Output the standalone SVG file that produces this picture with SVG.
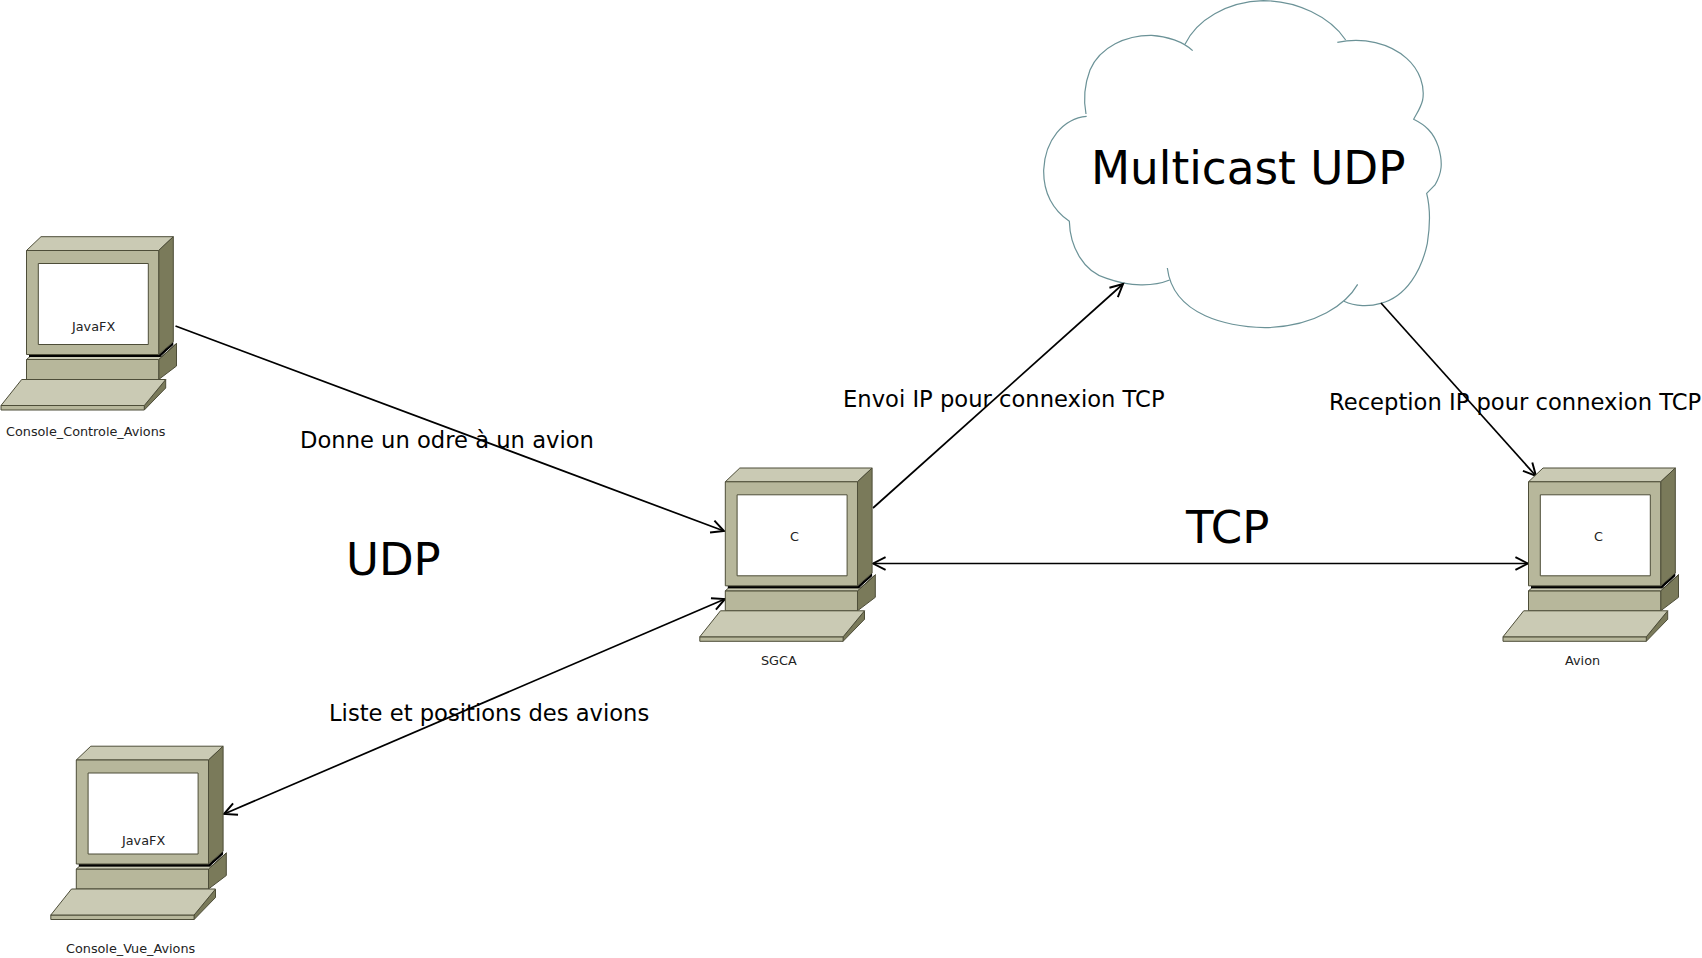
<svg xmlns="http://www.w3.org/2000/svg" width="1702" height="958" viewBox="0 0 1702 958">
<style>
text{font-family:"DejaVu Sans",sans-serif;fill:#000}
.s{font-size:12.8px;fill:#222}
.m{font-size:22.65px}
.l{font-size:45px}
.c{fill:none;stroke:#000;stroke-width:1.7}
.p path{stroke:#4d4d38;stroke-width:1;stroke-linejoin:round}
.a{fill:#b7b79b}.b{fill:#cacab4}.d{fill:#7a7a5a}
</style>
<defs>
<marker id="ah" markerUnits="userSpaceOnUse" markerWidth="16" markerHeight="16" refX="12" refY="7" orient="auto-start-reverse" viewBox="0 0 14 14"><path d="M1,1.5 L12,7 L1,12.5" fill="none" stroke="#000" stroke-width="1.7"/></marker>
<g id="pc" class="p">
<path class="d" d="M158.7,359.5 L176.5,343.5 L176.5,366 L158.7,379.5 Z"/>
<path class="a" d="M26.5,359.5 L158.7,359.5 L158.7,379.5 L26.5,379.5 Z"/>
<path class="b" d="M26.5,359.5 L30,356.5 L162,356.5 L176.5,343.5 L158.7,359.5 Z"/>
<path d="M29,354.5 L159,354.5 L173.3,341.7 L173.3,345 L160,357 L29,357 Z" fill="#000" style="stroke:none"/>
<path class="b" d="M158.7,250.5 L173.3,236.7 L41,236.7 L26.5,250.5 Z"/>
<path class="d" d="M158.7,250.5 L173.3,236.7 L173.3,341.7 L158.7,354.5 Z"/>
<path class="a" d="M26.5,250.5 L158.7,250.5 L158.7,354.5 L26.5,354.5 Z"/>
<path d="M38.3,263.5 L148.3,263.5 L148.3,344.5 L38.3,344.5 Z" fill="#fff"/>
<path class="d" d="M144.3,405.5 L165.7,379.5 L165.7,388 L144.3,410 Z"/>
<path class="a" d="M1,405.5 L144.3,405.5 L144.3,410 L1,410 Z"/>
<path class="b" d="M1,405.5 L21.7,379.5 L165.7,379.5 L144.3,405.5 Z"/>
</g>
</defs>
<g id="cloud">
<g transform="translate(1030 0) scale(.33333)" fill="none" stroke="#6b9297" stroke-width="3.6">
<path d="M168,342 C160,300 165,250 180,210 C210,140 290,105 365,106 C410,108 460,125 488,152"/>
<path d="M465,133 C500,60 590,5 700,2 C800,2 900,50 947,120"/>
<path d="M922,127 C1000,110 1080,130 1130,175 C1170,210 1185,260 1178,300 C1172,325 1160,340 1151,358 C1185,375 1210,395 1225,440 C1240,490 1235,520 1215,555 L1190,580 C1200,620 1200,680 1192,730 C1175,810 1130,890 1052,910 C1020,920 975,920 942,904"/>
<path d="M983,853 C950,910 860,980 705,983 C600,980 430,950 412,804"/>
<path d="M419,840 C370,860 300,860 230,835 C160,815 120,740 118,664 C70,630 40,580 41,510 C45,420 100,355 170,349"/>
</g>
<text x="1091" y="184" style="font-size:45.3px">Multicast UDP</text>
</g>
<g id="connectors">
<path class="c" d="M175.5,326 L724,531" marker-end="url(#ah)"/>
<path class="c" d="M224,814 L725,599" marker-start="url(#ah)" marker-end="url(#ah)"/>
<path class="c" d="M873,508 L1123,284" marker-end="url(#ah)"/>
<path class="c" d="M1381,303 L1536,476" marker-end="url(#ah)"/>
<path class="c" d="M873,563.5 L1528,563.5" marker-start="url(#ah)" marker-end="url(#ah)"/>
</g>
<g id="console-controle"><use href="#pc"/><text class="s" x="72" y="331">JavaFX</text><text class="s" x="6" y="436">Console_Controle_Avions</text></g>
<g id="sgca"><use href="#pc" x="698.8" y="231.3"/><text class="s" x="790" y="541">C</text><text class="s" x="761" y="665">SGCA</text></g>
<g id="avion"><use href="#pc" x="1502" y="231.3"/><text class="s" x="1594" y="541">C</text><text class="s" x="1565" y="665">Avion</text></g>
<g id="console-vue"><use href="#pc" x="49.8" y="509.5"/><text class="s" x="122" y="845">JavaFX</text><text class="s" x="66" y="953">Console_Vue_Avions</text></g>
<g id="labels">
<text class="m" x="300" y="448">Donne un odre à un avion</text>
<text class="m" x="843" y="407">Envoi IP pour connexion TCP</text>
<text class="m" x="1329" y="410">Reception IP pour connexion TCP</text>
<text class="m" x="329" y="721">Liste et positions des avions</text>
<text class="l" x="346" y="575">UDP</text>
<text class="l" x="1186" y="543">TCP</text>
</g>
</svg>
